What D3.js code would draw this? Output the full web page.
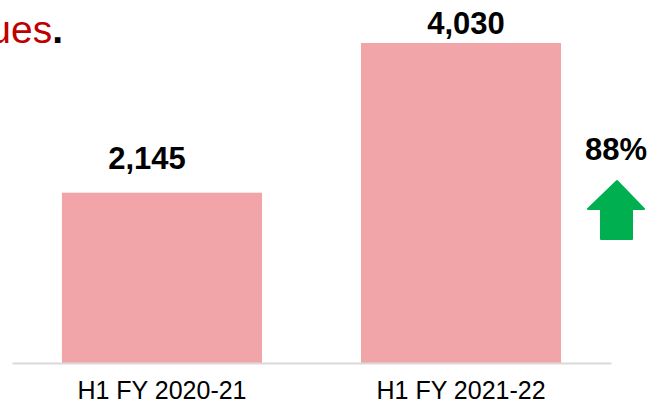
<!DOCTYPE html>
<html>
<head>
<meta charset="utf-8">
<script src="https://cdn.jsdelivr.net/npm/d3@7"></script>
<style>
  html, body { margin: 0; padding: 0; background: #fff; }
  svg { display: block; font-family: Arial, "Liberation Sans", sans-serif; }
</style>
</head>
<body>
<svg id="chart" width="650" height="405"></svg>
<script>
// Half-year figures
const categories = ["H1 FY 2020-21", "H1 FY 2021-22"];
const values = [2145, 4030];
const valueLabels = ["2,145", "4,030"];
const growthLabel = "88%";

const width = 650, height = 405;
const svg = d3.select("#chart");

// Scales
const x = d3.scaleBand()
  .domain(categories)
  .range([12, 611])
  .paddingInner(0.331)
  .paddingOuter(0.167);

const y = d3.scaleLinear()
  .domain([0, d3.max(values)])
  .range([363, 43]);

// Heading fragment at the top-left edge
const head = svg.append("text")
  .attr("x", 63)
  .attr("y", 43)
  .attr("text-anchor", "end")
  .attr("font-size", 39);
head.append("tspan").attr("fill", "#C00000").text("values");
head.append("tspan").attr("fill", "#000").attr("font-weight", "bold").text(".");

// Bars
svg.selectAll("rect.bar")
  .data(values)
  .join("rect")
  .attr("class", "bar")
  .attr("x", (d, i) => x(categories[i]))
  .attr("y", d => y(d))
  .attr("width", x.bandwidth())
  .attr("height", d => y(0) - y(d))
  .attr("fill", "#F1A5A9");

// Baseline with category labels
const xAxis = d3.axisBottom(x).tickSize(0).tickPadding(0);
const axisG = svg.append("g")
  .attr("transform", `translate(0,${y(0)})`)
  .call(xAxis);
axisG.select(".domain").attr("stroke", "#D9D9D9").attr("stroke-width", 2);
axisG.selectAll(".tick text")
  .attr("font-family", "Arial, 'Liberation Sans', sans-serif")
  .attr("font-size", 25)
  .attr("fill", "#000")
  .attr("dy", null)
  .attr("y", 36);

// Value labels above bars (small per-label nudges)
const labelDx = [-15, 5];
const labelDy = [-24, -9];
svg.selectAll("text.val")
  .data(values)
  .join("text")
  .attr("class", "val")
  .attr("x", (d, i) => x(categories[i]) + x.bandwidth() / 2 + labelDx[i])
  .attr("y", (d, i) => y(d) + labelDy[i])
  .attr("text-anchor", "middle")
  .attr("font-size", 31)
  .attr("font-weight", "bold")
  .attr("fill", "#000")
  .text((d, i) => valueLabels[i]);

// Growth marker
svg.append("text")
  .attr("x", 616)
  .attr("y", 160)
  .attr("text-anchor", "middle")
  .attr("font-size", 31)
  .attr("font-weight", "bold")
  .attr("fill", "#000")
  .text(growthLabel);

const arrow = d3.path();
arrow.moveTo(617, 181);
arrow.lineTo(644, 209);
arrow.lineTo(632, 209);
arrow.lineTo(632, 239);
arrow.lineTo(601, 239);
arrow.lineTo(601, 209);
arrow.lineTo(588, 209);
arrow.closePath();
svg.append("path")
  .attr("d", arrow.toString())
  .attr("fill", "#00B050")
  .attr("stroke", "#00B050")
  .attr("stroke-width", 2)
  .attr("stroke-linejoin", "round");
</script>
</body>
</html>
